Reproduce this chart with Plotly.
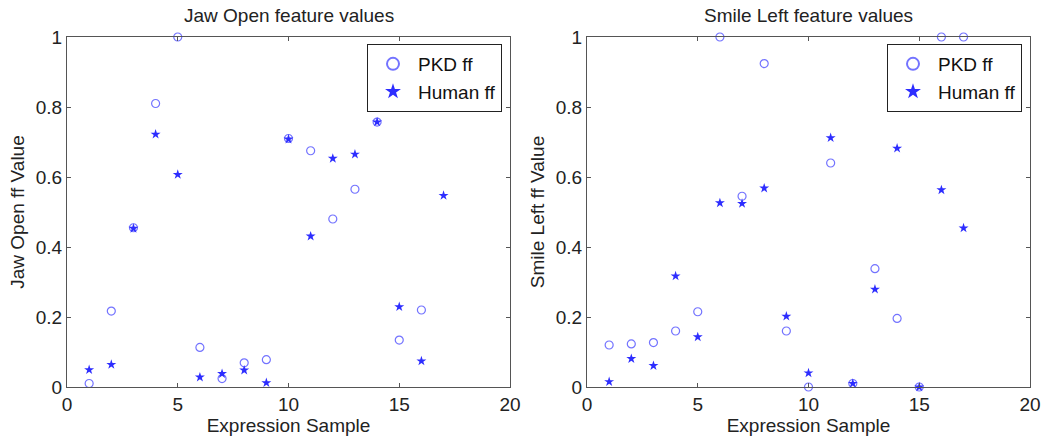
import plotly.graph_objects as go

samples = list(range(1, 18))

jaw_pkd = [0.01, 0.217, 0.455, 0.81, 1.0, 0.113, 0.024, 0.069, 0.078, 0.71, 0.675, 0.48, 0.565, 0.757, 0.134, 0.22, 0.80]
jaw_human = [0.049, 0.064, 0.453, 0.722, 0.607, 0.028, 0.038, 0.048, 0.012, 0.708, 0.431, 0.653, 0.665, 0.757, 0.229, 0.074, 0.547]

smile_pkd = [0.12, 0.123, 0.127, 0.16, 0.215, 1.0, 0.545, 0.924, 0.16, 0.0, 0.64, 0.01, 0.338, 0.196, 0.0, 1.0, 1.0]
smile_human = [0.015, 0.081, 0.061, 0.317, 0.143, 0.526, 0.524, 0.568, 0.202, 0.04, 0.712, 0.01, 0.279, 0.682, 0.0, 0.563, 0.454]

titles = ["Jaw Open feature values", "Smile Left feature values"]
ytitles = ["Jaw Open ff Value", "Smile Left ff Value"]
xtitle = "Expression Sample"
names = ["PKD ff", "Human ff"]

FONT = "Liberation Sans, Arial, Helvetica, sans-serif"
W, H = 1050, 439
CIRC = "rgba(80,80,255,0.8)"
STAR = "rgb(45,45,255)"

fig = go.Figure()
data = [(jaw_pkd, jaw_human), (smile_pkd, smile_human)]
for i, (pkd, hum) in enumerate(data):
    xa = "x" if i == 0 else "x2"
    ya = "y" if i == 0 else "y2"
    lg = "legend" if i == 0 else "legend2"
    fig.add_trace(go.Scatter(x=samples, y=pkd, mode="markers", name=names[0],
                             xaxis=xa, yaxis=ya, legend=lg, cliponaxis=False,
                             marker=dict(symbol="circle-open", size=8, color=CIRC, line=dict(width=1.2, color=CIRC))))
    fig.add_trace(go.Scatter(x=samples, y=hum, mode="markers", name=names[1],
                             xaxis=xa, yaxis=ya, legend=lg, cliponaxis=False,
                             marker=dict(symbol="star", size=7.5, color=STAR, line=dict(width=0))))

y0, y1 = (H - 387) / H, (H - 37) / H
doms = [[67 / W, 510 / W], [587 / W, 1030 / W]]

FS = 19
axis_common = dict(showline=True, linecolor="#555", linewidth=1, mirror="ticks",
                   ticks="inside", ticklen=4, tickcolor="#555", showgrid=False, zeroline=False,
                   automargin=False,
                   tickfont=dict(family=FONT, size=FS, color="#222"))

for i in range(2):
    sfx = "" if i == 0 else "2"
    fig.layout["xaxis" + sfx] = dict(axis_common, domain=doms[i], range=[0, 20], dtick=5, tick0=0,
                                     anchor="y" + sfx,
                                     title=dict(text=xtitle, font=dict(family=FONT, size=FS, color="#222"), standoff=0))
    fig.layout["yaxis" + sfx] = dict(axis_common, domain=[y0, y1], range=[0, 1], dtick=0.2, tick0=0,
                                     anchor="x" + sfx,
                                     title=dict(text=ytitles[i], font=dict(family=FONT, size=FS, color="#222"), standoff=6))
    fig.add_annotation(text=titles[i], xref="paper", yref="paper",
                       x=(doms[i][0] + doms[i][1]) / 2, y=(H - 16) / H, xanchor="center", yanchor="middle",
                       showarrow=False, font=dict(family=FONT, size=FS, color="#222"))

leg_common = dict(bgcolor="white", bordercolor="#222", borderwidth=1,
                  font=dict(family=FONT, size=FS, color="#111"),
                  xanchor="right", yanchor="top", y=(H - 44) / H, itemsizing="constant",
                  itemwidth=40, tracegroupgap=0)
fig.update_layout(
    width=W, height=H, margin=dict(l=0, r=0, t=0, b=0),
    paper_bgcolor="white", plot_bgcolor="white",
    showlegend=True,
    legend=dict(leg_common, x=502 / W),
    legend2=dict(leg_common, x=1022 / W),
)

fig.write_html("out.html", config={"displayModeBar": False},
               post_script="document.body.style.margin='0';document.body.style.overflow='hidden';")
